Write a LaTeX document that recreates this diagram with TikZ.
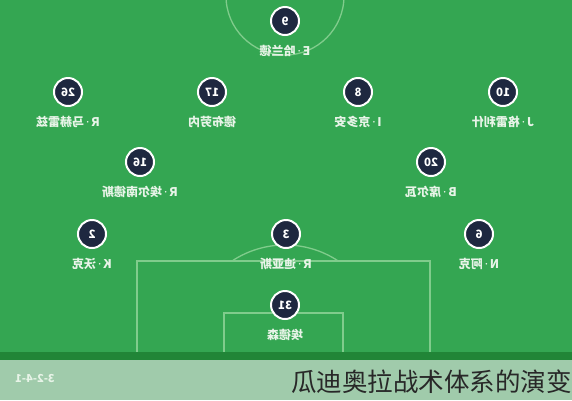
\documentclass[tikz,border=0pt]{standalone}
\usepackage{graphicx}
\usepackage{fontspec}
\setmainfont{Noto Sans CJK SC}
\newfontfamily\latinfont{Noto Sans}
\usepackage{tikz}
\definecolor{Pitch}{RGB}{52, 166, 82}
\definecolor{PitchLine}{RGB}{128, 204, 140}
\definecolor{Strip}{RGB}{33, 133, 55}
\definecolor{Band}{RGB}{160, 203, 171}
\definecolor{Shirt}{RGB}{30, 40, 64}
\definecolor{Caption}{RGB}{232, 244, 232}
\definecolor{Mark}{RGB}{40, 40, 40}
\newcommand{\flip}[1]{\scalebox{-1}[1]{#1}}
\newcommand{\md}{{\latinfont\bfseries\,·\,}}
\tikzset{
  player/.style={circle, fill=Shirt, draw=white, line width=2pt,
    minimum size=28pt, inner sep=0pt, text=white, font=\fontsize{11.5}{11}\selectfont\bfseries},
  plabel/.style={text=Caption, inner sep=0pt, font=\fontsize{12}{12}\selectfont\bfseries},
}

\begin{document}
\begin{tikzpicture}[x=1pt, y=-1pt]
    %%Background
    \useasboundingbox (0,0) rectangle (572,400);
    \fill[Pitch] (0,0) rectangle (572,353);
    \fill[Strip] (0,352) rectangle (572,360);
    \fill[Band] (0,360) rectangle (572,400);

    %% Pitch markings
    \begin{scope}[draw=PitchLine, line width=1.3pt]
    \clip (0,0) rectangle (572,352);
    \draw (285,-4) circle[radius=59];
    \draw (137,352) to (137,261) to (430,261) to (430,352);
    \draw (224,352) to (224,313) to (343,313) to (343,352);
    \draw (232,261) arc[start angle=-123.6, end angle=-56.4, radius=96];
    \end{scope}

    %% Players
    \foreach \num/\px/\py/\name in {
      9/285/21/{E\md 哈兰德},
      26/68/92/{R\md 马赫雷兹}, 17/212/92/{德布劳内}, 8/358/92/{I\md 京多安}, 10/503/92/{J\md 格雷利什},
      16/140/162/{R\md 埃尔南德斯}, 20/431/162/{B\md 席尔瓦},
      2/92/234/{K\md 沃克}, 3/286/234/{R\md 迪亚斯}, 6/479/234/{N\md 阿克},
      31/285/305/{埃德森}}
    {
      \node[player] (p\num) at (\px,\py) {\flip{\num}};
      \node[plabel] (n\num) at (\px,\py+30) {\flip{\name}};
    }

    %% Caption
    \node[plabel, font=\fontsize{11}{11}\selectfont\bfseries] (shape) at (35,378) {\flip{3-2-4-1}};
    \node[text=Mark, inner sep=0pt, anchor=east, font=\fontsize{25.5}{26}\selectfont]
      (title) at (572,382) {瓜迪奥拉战术体系的演变};
\end{tikzpicture}
\end{document}
